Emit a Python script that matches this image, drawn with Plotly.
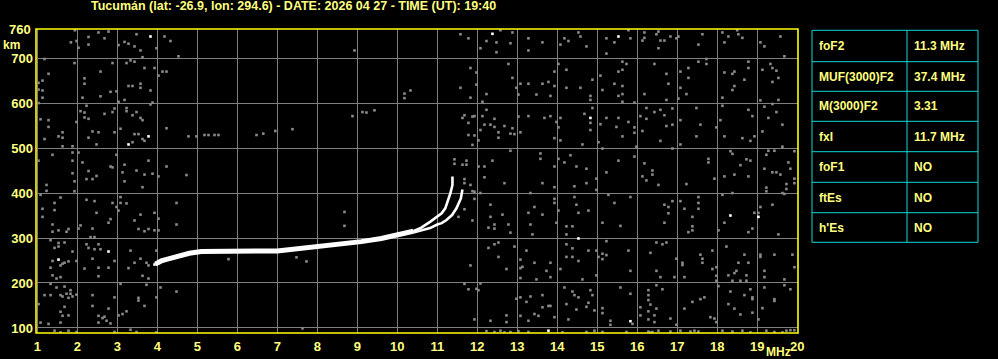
import plotly.graph_objects as go

# ---------------- data ----------------
title_text = "Tucumán (lat: -26.9, lon: 294.6) - DATE: 2026 04 27 - TIME (UT): 19:40"

freq_ticks = list(range(1, 21))
height_ticks = [100, 200, 300, 400, 500, 600, 700]

# O-mode trace, joint (thick) part
o_low_freq = [3.95, 4.1, 4.3, 4.5, 4.8, 5.1, 5.5, 6.0, 6.5, 7.0, 7.4, 8.0, 8.7, 9.1, 9.6, 10.1, 10.4]
o_low_height = [242, 249, 254, 259, 266, 270, 271, 271, 271, 271, 275, 280, 286, 292, 299, 308, 315]
# O-mode cusp
o_high_freq = [10.4, 10.6, 10.82, 11.0, 11.11, 11.2, 11.28, 11.33, 11.38, 11.38]
o_high_height = [315, 323, 336, 347, 355, 366, 385, 400, 418, 437]
# X-mode cusp
x_freq = [10.4, 10.6, 10.82, 11.0, 11.11, 11.23, 11.37, 11.48, 11.59, 11.63]
x_height = [312, 316, 322, 330, 333, 340, 351, 366, 388, 408]

# gray noise dots (freq MHz, virtual height km)
noise_dots = [
    (1.94, 762), (1.84, 735), (1.98, 738), (2.03, 723), (2.28, 747), (2.28, 730), (2.53, 757), (2.68, 744),
    (2.78, 759), (3.03, 729), (3.18, 736), (3.28, 732), (3.43, 726), (3.48, 753), (3.58, 717), (3.63, 702),
    (3.98, 722), (4.18, 748), (4.33, 738), (4.53, 704),
    (1.18, 698), (1.28, 665), (1.03, 645), (1.13, 650), (1.03, 630), (1.13, 628), (1.13, 612), (1.03, 600),
    (1.93, 689), (2.18, 655), (2.18, 643), (2.13, 612), (2.58, 670), (2.58, 615), (2.83, 625), (2.88, 689),
    (2.98, 626), (3.03, 603), (3.18, 607), (3.23, 689), (3.33, 695), (3.43, 692), (3.28, 638), (3.38, 638),
    (3.58, 643), (3.58, 634), (3.68, 678), (3.83, 628), (3.93, 678), (3.88, 601), (4.03, 661), (4.13, 670),
    (4.23, 670),
    (1.08, 564), (1.28, 562), (1.28, 547), (1.18, 520), (1.53, 526), (1.63, 535), (1.63, 523), (1.63, 504),
    (1.88, 504), (1.98, 558), (2.08, 582), (2.18, 579), (2.18, 568), (2.23, 594), (2.28, 565), (2.28, 523),
    (2.38, 537), (2.48, 508), (2.53, 535), (2.68, 576), (2.88, 580), (2.93, 588), (2.93, 535), (3.08, 543),
    (3.23, 589), (3.23, 582), (3.38, 573), (3.48, 580), (3.58, 567), (3.63, 562), (3.43, 531), (3.53, 531),
    (3.63, 520), (3.68, 516), (3.38, 513), (3.83, 597), (4.23, 544), (4.78, 526), (4.98, 526),
    (1.38, 485), (1.03, 472), (1.88, 490), (1.88, 472), (1.88, 444), (1.93, 404), (2.03, 490), (2.13, 468),
    (2.28, 449), (2.23, 431), (2.38, 431), (1.93, 426), (2.48, 438), (2.83, 459), (2.88, 457), (2.98, 485),
    (3.18, 463), (3.13, 446), (3.18, 426), (3.48, 450), (3.68, 441), (3.63, 413), (3.88, 443), (3.78, 472),
    (4.03, 437), (4.23, 459), (4.73, 440), (1.23, 418), (1.23, 405),
    (1.08, 396), (1.13, 365), (1.43, 362), (1.43, 378), (1.58, 390), (1.13, 347), (1.38, 330), (1.38, 314),
    (1.53, 317), (1.73, 314), (1.78, 320), (2.03, 321), (2.08, 328), (2.23, 385), (2.43, 382), (2.48, 356),
    (2.38, 321), (2.83, 342), (2.78, 334), (2.88, 378), (2.98, 369), (3.08, 391), (3.08, 378), (3.23, 377),
    (3.03, 361), (3.43, 339), (3.58, 352), (3.53, 320), (3.68, 315), (3.78, 320), (3.93, 356), (3.93, 317),
    (4.03, 343), (4.03, 317), (4.48, 378), (4.48, 330),
    (1.33, 295), (1.53, 289), (1.53, 281), (1.43, 278), (1.68, 290), (1.38, 249), (1.68, 245), (1.78, 248),
    (1.88, 270), (1.98, 249), (1.33, 234), (1.38, 217), (1.48, 210), (1.58, 213), (1.58, 239), (1.63, 243),
    (2.23, 286), (2.28, 278), (2.33, 302), (2.43, 302), (2.43, 275), (2.53, 286), (2.58, 275), (2.38, 254),
    (2.18, 232), (2.53, 234), (2.53, 215), (2.78, 234), (2.93, 249), (3.33, 272), (3.28, 233), (3.43, 245),
    (3.58, 254), (3.63, 216), (3.73, 245), (3.78, 210), (3.98, 272), (3.78, 239),
    (1.03, 153), (1.08, 112), (1.18, 173), (1.33, 173), (1.33, 198), (1.48, 190), (1.58, 173), (1.63, 170),
    (1.68, 192), (1.73, 176), (1.78, 167), (1.88, 170), (1.83, 184), (1.68, 147), (1.58, 136), (1.63, 127),
    (1.58, 112), (1.78, 128), (1.83, 176), (1.98, 174), (2.38, 173), (2.38, 149), (2.53, 127), (2.53, 112),
    (2.63, 122), (2.68, 125), (2.73, 116), (2.83, 110), (2.78, 143), (2.93, 168), (3.03, 128), (3.13, 131),
    (3.23, 137), (3.53, 167), (3.53, 161), (3.68, 149), (3.08, 198), (3.73, 196), (3.98, 168), (4.08, 190),
    (4.48, 181), (1.28, 109),
    (1.43, 94), (1.58, 90), (1.78, 94), (1.98, 91), (2.93, 91), (3.33, 96), (3.48, 91), (3.98, 90),
    (8.93, 717), (10.18, 621), (10.18, 611), (10.33, 628), (8.88, 571), (9.13, 580), (9.23, 579), (9.43, 584),
    (5.18, 529), (5.28, 529), (5.43, 529), (5.53, 529), (6.48, 529), (6.65, 532), (6.95, 538), (7.38, 542),
    (8.68, 358), (8.68, 327), (5.78, 253), (7.48, 257), (7.73, 248), (7.63, 99),
    (11.58, 753), (11.78, 744), (12.58, 762), (12.23, 738), (12.48, 735), (12.83, 733), (12.88, 757),
    (12.08, 722), (12.48, 713), (13.28, 744), (13.28, 717), (13.63, 735), (14.08, 730), (14.18, 744),
    (14.28, 738), (14.53, 757), (14.58, 748), (14.73, 726), (15.23, 744), (15.23, 710), (15.43, 735),
    (11.83, 678), (11.98, 668), (11.98, 641), (11.58, 634), (11.83, 612), (12.13, 603), (12.23, 620),
    (12.78, 687), (12.88, 656), (12.98, 634), (13.03, 619), (13.08, 643), (13.28, 643), (13.48, 619),
    (13.63, 643), (13.78, 647), (13.93, 670), (13.93, 638), (13.83, 616), (14.03, 687), (14.23, 674),
    (14.23, 634), (14.58, 634), (14.83, 616), (14.83, 607), (14.88, 652), (15.13, 629), (15.08, 661),
    (15.43, 643), (15.53, 616), (15.53, 670),
    (11.68, 573), (11.63, 567), (11.88, 570), (11.93, 571), (11.78, 556), (11.78, 529), (11.93, 528),
    (11.88, 507), (12.03, 517), (12.13, 571), (12.23, 585), (12.18, 552), (12.08, 540), (12.33, 552),
    (12.43, 565), (12.43, 547), (12.53, 535), (12.53, 523), (12.68, 549), (12.83, 532), (12.88, 544),
    (12.93, 531), (13.03, 570), (13.08, 535), (13.28, 571), (13.68, 567), (13.83, 571), (13.93, 522),
    (13.98, 558), (14.03, 546), (14.08, 567), (14.08, 517), (14.63, 508), (14.68, 576), (14.88, 589),
    (14.83, 556), (14.83, 540), (15.03, 513), (15.08, 553), (15.23, 567), (15.53, 567), (15.48, 547),
    (11.43, 475), (11.43, 465), (11.63, 463), (11.73, 472), (11.73, 463), (11.68, 431), (11.68, 422),
    (11.83, 418), (11.93, 403), (11.88, 404), (12.03, 459), (12.18, 459), (12.18, 435), (12.38, 472),
    (12.68, 422), (12.83, 494), (13.58, 488), (13.58, 476), (13.63, 422), (13.93, 459), (13.93, 413),
    (14.03, 476), (14.18, 468), (14.33, 484), (14.48, 459), (14.43, 415), (14.73, 454), (14.73, 422),
    (14.98, 432), (14.98, 407), (15.23, 446), (15.53, 472), (15.13, 499),
    (11.93, 387), (12.08, 400), (11.68, 364), (11.53, 347), (11.88, 339), (12.33, 374), (12.33, 347),
    (12.43, 330), (12.43, 321), (12.63, 352), (12.78, 330), (12.83, 312), (12.28, 323), (13.28, 356),
    (13.33, 330), (13.38, 308), (13.43, 369), (13.63, 352), (13.33, 400), (13.93, 387), (13.93, 378),
    (14.03, 361), (13.98, 334), (14.23, 326), (14.23, 308), (14.38, 326), (14.48, 374), (14.43, 391),
    (14.53, 356), (14.78, 361), (15.13, 334), (15.28, 396), (15.43, 378),
    (12.28, 278), (12.43, 286), (12.53, 290), (12.53, 258), (12.73, 231), (12.93, 281), (13.08, 252),
    (13.08, 233), (13.13, 236), (13.08, 211), (13.23, 272), (13.43, 245), (13.48, 208), (13.73, 227),
    (13.83, 245), (13.83, 213), (14.08, 231), (14.23, 286), (14.23, 258), (14.38, 277), (14.38, 258),
    (14.53, 249), (14.63, 208), (14.78, 272), (14.98, 272), (15.03, 258), (15.13, 265), (15.13, 253),
    (15.23, 293), (15.23, 262), (14.98, 217), (11.83, 239),
    (11.68, 198), (11.78, 186), (12.03, 184), (12.08, 199), (11.93, 119), (12.33, 116), (12.73, 128),
    (12.73, 113), (12.98, 165), (13.08, 168), (13.23, 158), (13.33, 170), (13.08, 127), (13.28, 116),
    (13.43, 131), (13.53, 127), (13.63, 173), (13.63, 146), (13.78, 149), (13.83, 149), (13.93, 124),
    (14.18, 190), (14.23, 153), (14.28, 119), (14.38, 181), (14.43, 173), (14.48, 141), (14.53, 168),
    (14.73, 147), (14.78, 156), (14.88, 173), (14.93, 139), (14.83, 184), (15.13, 144), (15.13, 133),
    (15.33, 116), (15.33, 107), (11.98, 187),
    (12.23, 93), (12.43, 91), (12.58, 94), (12.68, 90), (12.83, 91), (13.03, 93), (13.28, 91), (14.13, 90),
    (14.73, 91), (14.93, 94), (15.13, 91),
    (15.78, 762), (15.83, 744), (16.18, 757), (16.18, 745), (16.13, 739), (16.53, 759), (16.48, 753),
    (16.58, 739), (16.68, 739), (16.53, 722), (16.83, 748), (17.03, 748), (16.98, 744), (17.53, 730),
    (17.63, 753), (18.13, 757), (18.28, 748), (18.18, 735), (18.53, 753), (18.63, 745), (18.5, 762),
    (19.08, 735), (19.18, 726), (19.58, 748), (19.68, 704),
    (15.63, 692), (15.63, 674), (15.73, 687), (15.63, 638), (15.63, 620), (15.63, 603), (15.93, 601),
    (16.18, 620), (16.43, 687), (16.73, 665), (16.78, 643), (16.73, 607), (17.08, 670), (17.28, 678),
    (17.28, 656), (17.08, 634), (17.03, 610), (17.23, 620), (17.53, 692), (17.73, 698), (17.73, 687),
    (18.18, 668), (18.38, 665), (18.43, 670), (18.43, 638), (18.38, 629), (18.68, 652), (18.13, 612),
    (18.78, 692), (18.78, 678), (19.13, 674), (19.33, 687), (19.38, 678), (19.48, 672), (19.38, 647),
    (19.53, 656), (19.53, 607), (19.08, 606),
    (15.78, 558), (15.93, 546), (15.93, 534), (15.63, 526), (16.08, 571), (16.23, 589), (16.23, 565),
    (16.13, 538), (16.43, 580), (16.58, 585), (16.68, 573), (16.73, 549), (16.88, 588), (16.88, 552),
    (16.58, 516), (17.08, 562), (17.08, 508), (17.48, 589), (17.58, 552), (17.48, 526), (18.13, 594),
    (18.08, 562), (17.98, 546), (18.18, 526), (18.78, 585), (18.88, 571), (18.63, 522), (18.83, 516),
    (18.93, 526), (19.18, 592), (19.28, 567), (19.48, 580), (19.63, 552), (19.13, 537), (19.63, 503),
    (19.38, 598),
    (15.93, 481), (15.98, 503), (16.18, 466), (16.38, 450), (16.38, 441), (16.13, 437), (16.23, 428),
    (16.53, 418), (16.88, 499), (17.23, 420), (17.78, 476), (17.78, 468), (17.93, 432), (18.33, 493),
    (18.38, 487), (18.58, 462), (18.73, 475), (18.83, 472), (18.78, 437), (18.18, 437), (18.43, 441),
    (19.18, 454), (19.23, 485), (19.28, 494), (19.43, 494), (19.38, 446), (19.48, 446), (19.58, 441),
    (19.78, 468), (19.83, 454), (19.93, 493), (19.93, 432), (19.93, 422), (19.73, 420), (19.73, 409),
    (19.23, 412), (19.23, 404), (19.68, 398),
    (15.83, 391), (15.58, 327), (16.68, 374), (16.78, 369), (16.78, 355), (16.88, 382), (16.68, 334),
    (17.08, 382), (17.18, 365), (17.53, 391), (17.53, 378), (17.53, 365), (17.38, 347), (17.38, 326),
    (17.38, 317), (17.28, 313), (18.03, 317), (18.13, 396), (18.38, 400), (18.18, 334), (18.78, 313),
    (18.88, 321), (18.93, 356), (19.03, 356), (19.08, 369), (19.38, 374), (19.53, 308), (19.63, 400),
    (15.78, 272), (15.83, 227), (16.33, 267), (16.48, 290), (16.63, 286), (16.73, 290), (16.48, 227),
    (16.58, 213), (16.93, 213), (16.98, 254), (17.13, 245), (17.13, 240), (17.18, 213), (17.58, 263),
    (17.63, 254), (17.63, 245), (17.88, 272), (17.88, 231), (17.98, 235), (17.98, 216), (18.23, 281),
    (18.28, 217), (18.43, 222), (18.48, 227), (18.53, 245), (18.68, 263), (18.73, 217), (18.78, 245),
    (19.08, 263), (19.08, 258), (19.18, 227), (19.18, 213), (19.43, 263), (19.68, 208), (19.88, 263),
    (19.93, 235), (17.98, 205), (18.38, 205), (18.58, 205), (18.73, 205),
    (15.58, 190), (15.83, 176), (16.28, 184), (16.28, 173), (16.28, 162), (16.48, 195), (16.63, 186),
    (16.33, 152), (16.08, 146), (16.08, 128), (16.28, 137), (16.28, 119), (16.43, 128), (16.43, 113),
    (16.48, 143), (16.83, 121), (16.98, 107), (17.38, 158), (17.58, 164), (17.68, 168), (17.18, 143),
    (17.83, 124), (17.93, 121), (17.98, 113), (18.03, 193), (18.33, 181), (18.28, 153), (18.43, 143),
    (18.58, 130), (18.68, 173), (18.83, 186), (18.88, 168), (18.88, 164), (18.88, 134), (19.13, 144),
    (19.18, 190), (19.43, 164), (19.43, 160), (19.68, 195), (19.83, 186), (19.03, 119), (15.88, 109),
    (15.73, 91), (16.28, 92), (16.33, 90), (16.38, 91), (16.53, 94), (16.83, 92), (17.08, 94), (17.33, 92),
    (17.43, 94), (17.53, 92), (18.13, 94), (18.38, 92), (18.63, 94), (18.83, 90), (19.23, 94), (19.43, 91),
    (19.63, 90), (19.73, 94), (19.83, 95), (19.93, 95),
]

# brighter (white) noise dots
white_dots = [
    (3.83, 748), (3.78, 526), (3.28, 508), (1.53, 252), (2.78, 270), (3.93, 241),
    (12.38, 754), (15.53, 748), (14.83, 567), (14.53, 299), (13.78, 94),
    (18.33, 350), (19.03, 347), (15.83, 115),
]

table_labels = ["foF2", "MUF(3000)F2", "M(3000)F2", "fxI", "foF1", "ftEs", "h'Es"]
table_values = ["11.3 MHz", "37.4 MHz", "3.31", "11.7 MHz", "NO", "NO", "NO"]

# ---------------- style ----------------
TXT = "#ffff80"
BORDER = "#ffff00"
GRID = "#808080"
NOISE = "#8a8a8a"
CYAN = "#10d8d8"
FONT = "Liberation Sans"

W, H = 998, 359
ML, MR, MT, MB = 36, 200, 29, 26
PW, PH = W - ML - MR, H - MT - MB


def px_x(px):
    return (px - ML) / PW


def px_y(py):
    return (H - MB - py) / PH


fig = go.Figure()

fig.add_trace(go.Scatter(
    x=[p[0] for p in noise_dots], y=[p[1] for p in noise_dots], mode="markers",
    marker=dict(symbol="square", size=2.6, color=NOISE, line=dict(width=0)),
    hoverinfo="skip", showlegend=False))
fig.add_trace(go.Scatter(
    x=[p[0] for p in white_dots], y=[p[1] for p in white_dots], mode="markers",
    marker=dict(symbol="square", size=2.6, color="#ffffff", line=dict(width=0)),
    hoverinfo="skip", showlegend=False))
fig.add_trace(go.Scatter(x=o_low_freq, y=o_low_height, mode="lines",
                         line=dict(color="#ffffff", width=5), showlegend=False))
fig.add_trace(go.Scatter(x=o_high_freq, y=o_high_height, mode="lines",
                         line=dict(color="#ffffff", width=2.6), showlegend=False))
fig.add_trace(go.Scatter(x=x_freq, y=x_height, mode="lines",
                         line=dict(color="#ffffff", width=2.6), showlegend=False))

axis_font = dict(family=FONT, size=13, color=TXT, weight="bold")

fig.update_xaxes(range=[0.967, 20.02], tickvals=freq_ticks, ticktext=[str(v) for v in freq_ticks],
                 showgrid=True, gridcolor=GRID, gridwidth=1, zeroline=False, showline=False,
                 ticks="", tickfont=axis_font, ticklabelstandoff=4, automargin=False)
fig.update_yaxes(range=[88.8, 764.7], tickvals=height_ticks, ticktext=[str(v) for v in height_ticks],
                 showgrid=True, gridcolor=GRID, gridwidth=1, zeroline=False, showline=False,
                 ticks="", tickfont=axis_font, ticklabelstandoff=2, automargin=False)

shapes = [dict(type="rect", xref="paper", yref="paper", x0=0, x1=1, y0=0, y1=1,
               line=dict(color=BORDER, width=1.6), layer="above")]

annotations = [
    dict(text=title_text, xref="paper", yref="paper", x=px_x(89), y=px_y(6),
         xanchor="left", yanchor="middle", showarrow=False,
         font=dict(family=FONT, size=12.5, color=TXT, weight="bold")),
    dict(text="760", xref="paper", yref="paper", x=px_x(33), y=px_y(30),
         xanchor="right", yanchor="middle", showarrow=False, font=axis_font),
    dict(text="km", xref="paper", yref="paper", x=px_x(22), y=px_y(45),
         xanchor="right", yanchor="middle", showarrow=False,
         font=dict(family=FONT, size=12, color=TXT, weight="bold")),
    dict(text="MHz", xref="paper", yref="paper", x=px_x(793), y=px_y(352),
         xanchor="right", yanchor="middle", showarrow=False,
         font=dict(family=FONT, size=12, color=TXT, weight="bold")),
]

# parameter table
tx0, tx1, tcol = 812, 978, 907
row_lines = [30.3, 61.7, 91.3, 121.3, 151.7, 182.3, 212.7, 242.3]
for yl in row_lines:
    shapes.append(dict(type="line", xref="paper", yref="paper",
                       x0=px_x(tx0), x1=px_x(tx1), y0=px_y(yl), y1=px_y(yl),
                       line=dict(color=CYAN, width=1)))
for xl in (tx0, tcol, tx1):
    shapes.append(dict(type="line", xref="paper", yref="paper",
                       x0=px_x(xl), x1=px_x(xl), y0=px_y(row_lines[0]), y1=px_y(row_lines[-1]),
                       line=dict(color=CYAN, width=1)))
tfont = dict(family=FONT, size=12, color=TXT, weight="bold")
for i, (lab, val) in enumerate(zip(table_labels, table_values)):
    yc = (row_lines[i] + row_lines[i + 1]) / 2
    annotations.append(dict(text=lab, xref="paper", yref="paper", x=px_x(817), y=px_y(yc),
                            xanchor="left", yanchor="middle", showarrow=False, font=tfont))
    annotations.append(dict(text=val, xref="paper", yref="paper", x=px_x(912), y=px_y(yc),
                            xanchor="left", yanchor="middle", showarrow=False, font=tfont))

fig.update_layout(
    width=W, height=H, margin=dict(l=ML, r=MR, t=MT, b=MB),
    paper_bgcolor="#000000", plot_bgcolor="#000000",
    shapes=shapes, annotations=annotations, showlegend=False,
)

fig.write_html("out.html")
